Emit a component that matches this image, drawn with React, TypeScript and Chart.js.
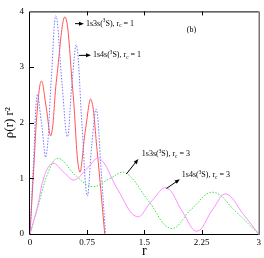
import React, { useEffect, useRef } from "react";
import { Chart, registerables } from "chart.js";
Chart.register(...registerables);

const FONT = '"Liberation Serif", "Times New Roman", serif';

const xTicks = [0, 0.75, 1.5, 2.25, 3];
const xTickLabels = ["0", "0.75", "1.5", "2.25", "3"];
const yTicks = [0, 1, 2, 3, 4];
const yTickLabels = ["0", "1", "2", "3", "4"];

// 1s3s(3S), rc = 1  (red solid)
const r3sRc1 = [0, 0.05, 0.1, 0.15, 0.21, 0.275, 0.35, 0.46, 0.56, 0.65, 0.73, 0.8, 0.88, 0.98];
const v3sRc1 = [0, 1.2, 2.3, 2.75, 2.3, 1.77, 2.8, 3.9, 2.6, 1.12, 1.9, 2.42, 1.5, 0];

// 1s4s(3S), rc = 1  (blue dotted)
const r4sRc1 = [0, 0.05, 0.095, 0.15, 0.21, 0.28, 0.34, 0.42, 0.49, 0.55, 0.61, 0.68, 0.75, 0.81, 0.87, 0.93, 0.99];
const v4sRc1 = [0, 1.4, 2.5, 2.0, 1.39, 2.8, 3.92, 2.7, 1.75, 2.7, 3.39, 2.0, 0.69, 1.6, 2.24, 1.2, 0];

// 1s3s(3S), rc = 3  (green dotted)
const r3sRc3 = [0, 0.1, 0.24, 0.37, 0.6, 0.82, 1.05, 1.25, 1.55, 1.85, 2.12, 2.4, 2.7, 3];
const v3sRc3 = [0, 0.47, 1.11, 1.36, 1.05, 0.85, 1.0, 1.1, 0.6, 0.1, 0.45, 0.75, 0.4, 0];

// 1s4s(3S), rc = 3  (magenta solid)
const r4sRc3 = [0, 0.1, 0.19, 0.3, 0.45, 0.58, 0.75, 0.91, 1.15, 1.4, 1.6, 1.79, 2.0, 2.19, 2.4, 2.57, 2.8, 3];
const v4sRc3 = [0, 0.5, 1.05, 1.27, 1.1, 0.97, 1.18, 1.36, 0.8, 0.31, 0.6, 0.83, 0.4, 0.05, 0.45, 0.72, 0.35, 0];

type Seg = { t: string; sup?: boolean; sub?: boolean };
const label = (state: string, rc: string): Seg[] => [
  { t: state + "(" },
  { t: "3", sup: true },
  { t: "S), r" },
  { t: "c", sub: true },
  { t: " = " + rc },
];

// annotation anchors in data coordinates
const annotations = [
  { text: label("1s3s", "1"), tail: [0.59, 3.78], head: [0.707, 3.78], at: [0.734, 3.78] },
  { text: label("1s4s", "1"), tail: [0.642, 3.21], head: [0.8, 3.21], at: [0.825, 3.21] },
  { text: label("1s3s", "3"), tail: [1.264, 1.078], head: [1.421, 1.348], at: [1.467, 1.435] },
  { text: label("1s4s", "3"), tail: [1.788, 0.817], head: [1.965, 0.983], at: [1.991, 1.061] },
];
const panelTag = { text: "(b)", at: [2.057, 3.67] };

function drawRich(ctx: CanvasRenderingContext2D, segs: Seg[], x: number, y: number, size: number) {
  let cx = x;
  ctx.textBaseline = "middle";
  ctx.textAlign = "left";
  for (const s of segs) {
    const fs = s.sup || s.sub ? size * 0.65 : size;
    ctx.font = `${fs}px ${FONT}`;
    const dy = s.sup ? -size * 0.35 : s.sub ? size * 0.28 : 0;
    ctx.fillText(s.t, cx, y + dy);
    cx += ctx.measureText(s.t).width;
  }
}

function drawArrow(ctx: CanvasRenderingContext2D, x1: number, y1: number, x2: number, y2: number) {
  const ang = Math.atan2(y2 - y1, x2 - x1);
  const len = 5;
  const hw = 2;
  ctx.beginPath();
  ctx.moveTo(x1, y1);
  ctx.lineTo(x2 - Math.cos(ang) * len * 0.8, y2 - Math.sin(ang) * len * 0.8);
  ctx.stroke();
  ctx.beginPath();
  ctx.moveTo(x2, y2);
  ctx.lineTo(x2 - Math.cos(ang) * len - Math.sin(ang) * hw, y2 - Math.sin(ang) * len + Math.cos(ang) * hw);
  ctx.lineTo(x2 - Math.cos(ang) * len + Math.sin(ang) * hw, y2 - Math.sin(ang) * len - Math.cos(ang) * hw);
  ctx.closePath();
  ctx.fill();
}

const framePlugin = {
  id: "frame",
  afterDraw(chart: any) {
    const { ctx, chartArea } = chart;
    const { left, right, top, bottom } = chartArea;
    const xs = chart.scales.x;
    const ys = chart.scales.y;
    ctx.save();
    ctx.strokeStyle = "#000";
    ctx.lineWidth = 1;
    ctx.beginPath();
    ctx.moveTo(left - 0.5, top + 0.5);
    ctx.lineTo(left - 0.5, bottom + 0.5);
    ctx.lineTo(right, bottom + 0.5);
    ctx.moveTo(left - 0.5, top + 0.5);
    ctx.lineTo(right, top + 0.5);
    ctx.stroke();
    ctx.strokeStyle = "#777";
    ctx.lineWidth = 1.5;
    ctx.beginPath();
    ctx.moveTo(right + 0.5, top);
    ctx.lineTo(right + 0.5, bottom + 1);
    ctx.stroke();
    ctx.strokeStyle = "#000";
    ctx.lineWidth = 1;
    ctx.beginPath();
    for (const v of xTicks) {
      if (v === 0 || v === 3) continue;
      const px = Math.round(xs.getPixelForValue(v)) + 0.5;
      ctx.moveTo(px, bottom);
      ctx.lineTo(px, bottom - 4);
      ctx.moveTo(px, top);
      ctx.lineTo(px, top + 4);
    }
    for (const v of yTicks) {
      if (v === 0 || v === 4) continue;
      const py = Math.round(ys.getPixelForValue(v)) + 0.5;
      ctx.moveTo(left, py);
      ctx.lineTo(left + 4, py);
    }
    ctx.stroke();

    ctx.fillStyle = "#000";
    ctx.strokeStyle = "#000";
    ctx.lineWidth = 1;
    for (const a of annotations) {
      const tx = xs.getPixelForValue(a.tail[0]);
      const ty = ys.getPixelForValue(a.tail[1]);
      const hx = xs.getPixelForValue(a.head[0]);
      const hy = ys.getPixelForValue(a.head[1]);
      drawArrow(ctx, tx, ty, hx, hy);
      drawRich(ctx, a.text, xs.getPixelForValue(a.at[0]), ys.getPixelForValue(a.at[1]), 8);
    }
    drawRich(ctx, [{ t: panelTag.text }], xs.getPixelForValue(panelTag.at[0]), ys.getPixelForValue(panelTag.at[1]), 8);
    ctx.restore();
  },
};

const toPts = (r: number[], v: number[]) => r.map((x, i) => ({ x, y: v[i] }));

export default function App() {
  const ref = useRef<HTMLCanvasElement | null>(null);
  useEffect(() => {
    document.body.style.margin = "0";
    const canvas = ref.current!;
    const common = { pointRadius: 0, borderWidth: 1, tension: 0.4, fill: false };
    const chart = new Chart(canvas, {
      type: "line",
      data: {
        datasets: [
          { ...common, label: "1s4s rc=3", data: toPts(r4sRc3, v4sRc3), borderColor: "rgb(255,140,255)" },
          { ...common, label: "1s3s rc=3", data: toPts(r3sRc3, v3sRc3), borderColor: "rgb(60,230,60)", borderDash: [1.5, 1.5] },
          { ...common, label: "1s4s rc=1", data: toPts(r4sRc1, v4sRc1), borderColor: "rgb(120,120,255)", borderDash: [1.5, 1.5] },
          { ...common, label: "1s3s rc=1", data: toPts(r3sRc1, v3sRc1), borderColor: "rgb(255,85,85)" },
        ],
      },
      options: {
        animation: false,
        responsive: false,
        maintainAspectRatio: false,
        layout: { padding: { top: 4, right: 5, left: 0, bottom: 0 } },
        plugins: { legend: { display: false }, tooltip: { enabled: false } },
        scales: {
          x: {
            type: "linear",
            min: 0,
            max: 3,
            afterBuildTicks: (s: any) => {
              s.ticks = xTicks.map((value) => ({ value }));
            },
            ticks: {
              autoSkip: false,
              maxRotation: 0,
              padding: 3,
              color: "#000",
              font: { family: FONT, size: 9 },
              callback: (v: any) => xTickLabels[xTicks.indexOf(Number(v))] ?? "",
            },
            grid: { display: false, drawTicks: false },
            border: { display: false },
            title: { display: true, text: "r", color: "#000", font: { family: FONT, size: 14, lineHeight: 1 }, padding: 0 },
            afterFit: (s: any) => {
              s.height = 24;
            },
          },
          y: {
            type: "linear",
            min: 0,
            max: 4,
            afterBuildTicks: (s: any) => {
              s.ticks = yTicks.map((value) => ({ value }));
            },
            ticks: {
              autoSkip: false,
              padding: 6,
              color: "#000",
              font: { family: FONT, size: 9 },
              callback: (v: any) => yTickLabels[yTicks.indexOf(Number(v))] ?? "",
            },
            grid: { display: false, drawTicks: false },
            border: { display: false },
            title: { display: true, text: "ρ(r) r²", color: "#000", font: { family: FONT, size: 13, lineHeight: 1 }, padding: { top: 3, bottom: 0 } },
            afterFit: (s: any) => {
              s.width = 30;
            },
          },
        },
      },
      plugins: [framePlugin],
    });
    return () => chart.destroy();
  }, []);
  return (
    <div style={{ position: "absolute", left: 0, top: 0, width: 264, height: 258 }}>
      <canvas ref={ref} width={264} height={258} style={{ width: 264, height: 258 }} />
    </div>
  );
}
